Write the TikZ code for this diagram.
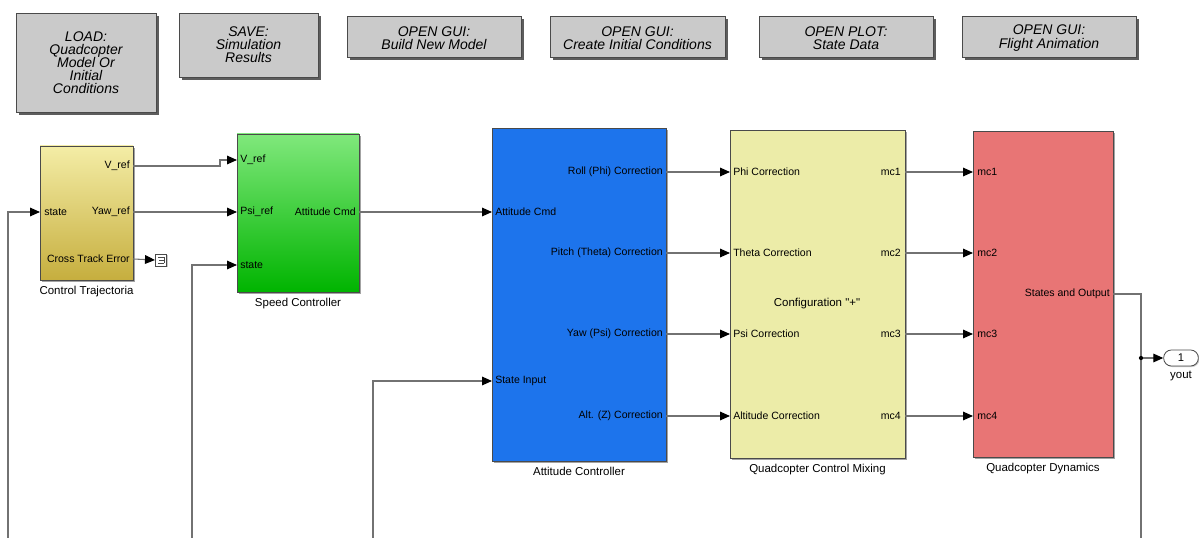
\documentclass[tikz,border=0pt]{standalone}
\usepackage{fontspec}
\newfontfamily\simsans{Liberation Sans}
\usetikzlibrary{arrows.meta,shadows,fit,positioning}

\definecolor{wiregray}{HTML}{727272}
\definecolor{edgegray}{HTML}{4A4A4A}
\definecolor{btnfill}{HTML}{CACACA}
\definecolor{ctTop}{HTML}{F4EDA6}
\definecolor{ctBot}{HTML}{C6AE3E}
\definecolor{scTop}{HTML}{80E87C}
\definecolor{scBot}{HTML}{00B400}
\definecolor{acFill}{HTML}{1D74EC}
\definecolor{qmFill}{HTML}{ECECA8}
\definecolor{qdFill}{HTML}{E87575}

\tikzset{
  wire/.style={draw=wiregray, line width=0.8pt},
  sig/.style={wire, -{Triangle[length=7.5pt,width=6.5pt,color=black]}},
  boxshadow/.style={drop shadow={shadow xshift=1.2pt, shadow yshift=-1.2pt, fill=black!45, opacity=0.8}},
  block/.style={draw=edgegray, line width=0.6pt, inner sep=0pt, boxshadow},
  button/.style={draw=edgegray, fill=btnfill, line width=0.6pt, inner sep=0pt,
    drop shadow={shadow xshift=2pt, shadow yshift=-2pt, fill=black!70, opacity=0.9}},
  btntext/.style={inner sep=0pt, align=center, font=\simsans\itshape\fontsize{10.5}{9.8}\selectfont},
  plabel/.style={inner sep=0pt, font=\simsans\fontsize{7.9}{9}\selectfont},
  caption/.style={inner sep=0pt, font=\simsans\fontsize{8.6}{9}\selectfont},
}

\begin{document}
\begin{tikzpicture}[x=0.75pt, y=-0.75pt]
\useasboundingbox (0,0) rectangle (1199,538);
\fill[white] (0,0) rectangle (1199,538);

% ---- buttons along the top ----
\node[button, fit={(16,13)(156,112)}] (bload) {};
\node[btntext] (tload) at (bload.center) {LOAD:\\Quadcopter\\Model Or\\Initial\\Conditions};
\node[button, fit={(179,13)(318,77)}] (bsave) {};
\node[btntext] (tsave) at (bsave.center) {SAVE:\\Simulation\\Results};
\node[button, fit={(347,16)(521,57)}] (bbuild) {};
\node[btntext] (tbuild) at ([yshift=-1.2pt]bbuild.center) {OPEN GUI:\\Build New Model};
\node[button, fit={(550,16)(725,57)}] (binit) {};
\node[btntext] (tinit) at ([yshift=-1.2pt]binit.center) {OPEN GUI:\\Create Initial Conditions};
\node[button, fit={(759,16)(933,57)}] (bplot) {};
\node[btntext] (tplot) at ([yshift=-1.2pt]bplot.center) {OPEN PLOT:\\State Data};
\node[button, fit={(962,16)(1136,57)}] (banim) {};
\node[btntext] (tanim) at ([yshift=-1.2pt]banim.center) {OPEN GUI:\\Flight Animation};

% ---- Control Trajectoria ----
\node[block, top color=ctTop, bottom color=ctBot, fit={(40,146)(133,280)}] (ct) {};
\node[caption, below=4pt of ct] (ctcap) {Control Trajectoria};
\node[plabel, anchor=east] (ctl1) at (130,166) {V\_ref};
\node[plabel, anchor=east] (ctl2) at (130,212) {Yaw\_ref};
\node[plabel, anchor=east] (ctl3) at (130,259) {Cross Track Error};
\node[plabel, anchor=west] (ctl4) at (44,212) {state};
\coordinate (ct-vref) at (133,166);
\coordinate (ct-yaw) at (133,212);
\coordinate (ct-cte) at (133,259);
\coordinate (ct-state) at (40,212);

% terminator on the cross track error output
\node[draw=edgegray, fill=white, line width=0.5pt, minimum width=8.5pt, minimum height=9pt, inner sep=0pt,
      drop shadow={shadow xshift=0.8pt, shadow yshift=-0.8pt, fill=black!40}] (term) at (161,260) {};
\draw[edgegray, line width=0.4pt] ([xshift=2.4pt,yshift=2.2pt]term.center) -- ([xshift=-2.2pt,yshift=2.2pt]term.center)
  ([xshift=2.4pt]term.center) -- ([xshift=-1.2pt]term.center)
  ([xshift=2.4pt,yshift=-2.2pt]term.center) -- ([xshift=-2.2pt,yshift=-2.2pt]term.center);
\draw[edgegray, line width=0.4pt] ([xshift=2.4pt,yshift=2.2pt]term.center) -- ([xshift=2.4pt,yshift=-2.2pt]term.center);

% ---- Speed Controller ----
\node[block, top color=scTop, bottom color=scBot, fit={(237,134)(359,292)}] (sc) {};
\node[caption, below=4pt of sc] (sccap) {Speed Controller};
\node[plabel, anchor=west] (scl1) at (240,160) {V\_ref};
\node[plabel, anchor=west] (scl2) at (240,212) {Psi\_ref};
\node[plabel, anchor=west] (scl3) at (240,265) {state};
\node[plabel, anchor=east] (scl4) at (356,212) {Attitude Cmd};
\coordinate (sc-vref) at (237,160);
\coordinate (sc-psi) at (237,212);
\coordinate (sc-state) at (237,265);
\coordinate (sc-out) at (359,212);

% ---- Attitude Controller ----
\node[block, fill=acFill, fit={(492,128)(666,461)}] (ac) {};
\node[caption, below=4pt of ac] (accap) {Attitude Controller};
\node[plabel, anchor=west] (acl1) at (495,212) {Attitude Cmd};
\node[plabel, anchor=west] (acl2) at (495,381) {State Input};
\node[plabel, anchor=east] (acl3) at (663,172) {Roll (Phi) Correction};
\node[plabel, anchor=east] (acl4) at (663,253) {Pitch (Theta) Correction};
\node[plabel, anchor=east] (acl5) at (663,334) {Yaw (Psi) Correction};
\node[plabel, anchor=east] (acl6) at (663,416) {Alt. (Z) Correction};
\coordinate (ac-cmd) at (492,212);
\coordinate (ac-state) at (492,381);
\coordinate (ac-o1) at (666,172);
\coordinate (ac-o2) at (666,253);
\coordinate (ac-o3) at (666,334);
\coordinate (ac-o4) at (666,416);

% ---- Quadcopter Control Mixing ----
\node[block, fill=qmFill, fit={(730,130)(905,458)}] (qm) {};
\node[caption, below=4pt of qm] (qmcap) {Quadcopter Control Mixing};
\node[caption] (qmcfg) at (817,304) {Configuration "+"};
\node[plabel, anchor=west] (qml1) at (733,172) {Phi Correction};
\node[plabel, anchor=west] (qml2) at (733,253) {Theta Correction};
\node[plabel, anchor=west] (qml3) at (733,334) {Psi Correction};
\node[plabel, anchor=west] (qml4) at (733,416) {Altitude Correction};
\node[plabel, anchor=east] (qml5) at (901,172) {mc1};
\node[plabel, anchor=east] (qml6) at (901,253) {mc2};
\node[plabel, anchor=east] (qml7) at (901,334) {mc3};
\node[plabel, anchor=east] (qml8) at (901,416) {mc4};
\coordinate (qm-i1) at (730,172);
\coordinate (qm-i2) at (730,253);
\coordinate (qm-i3) at (730,334);
\coordinate (qm-i4) at (730,416);
\coordinate (qm-o1) at (905,172);
\coordinate (qm-o2) at (905,253);
\coordinate (qm-o3) at (905,334);
\coordinate (qm-o4) at (905,416);

% ---- Quadcopter Dynamics ----
\node[block, fill=qdFill, fit={(973,131)(1113,457)}] (qd) {};
\node[caption, below=4pt of qd] (qdcap) {Quadcopter Dynamics};
\node[plabel, anchor=west] (qdl1) at (977,172) {mc1};
\node[plabel, anchor=west] (qdl2) at (977,253) {mc2};
\node[plabel, anchor=west] (qdl3) at (977,334) {mc3};
\node[plabel, anchor=west] (qdl4) at (977,416) {mc4};
\node[plabel, anchor=east] (qdl5) at (1110,294) {States and Output};
\coordinate (qd-i1) at (973,172);
\coordinate (qd-i2) at (973,253);
\coordinate (qd-i3) at (973,334);
\coordinate (qd-i4) at (973,416);
\coordinate (qd-out) at (1113,294);

% ---- outport ----
\node[draw=edgegray, fill=white, line width=0.6pt, rounded corners=5.8pt, minimum width=26pt, minimum height=12pt,
      inner sep=0pt, font=\simsans\fontsize{8.4}{9}\selectfont,
      drop shadow={shadow xshift=0.8pt, shadow yshift=-0.8pt, fill=black!40}] (yout) at (1181,358) {1};
\node[caption, below=3pt of yout] (youtcap) {yout};

% ---- branch points and wire ends ----
\coordinate (vjog1) at (220,166);
\coordinate (vjog2) at (220,160);
\coordinate (fbL) at (8,538);
\coordinate (fbS) at (192,538);
\coordinate (fbA) at (373,538);
\coordinate (outc) at (1141,294);
\coordinate (branch) at (1141,358);
\coordinate (fbR) at (1141,538);

% ---- connectors ----
\draw[sig] (ct-vref) -- (vjog1) -- (vjog2) -- (sc-vref);
\draw[sig] (ct-yaw) -- (sc-psi);
\draw[sig] (ct-cte) -- (term.west);
\draw[sig] (fbL) |- (ct-state);
\draw[sig] (fbS) |- (sc-state);
\draw[sig] (sc-out) -- (ac-cmd);
\draw[sig] (fbA) |- (ac-state);
\draw[sig] (ac-o1) -- (qm-i1);
\draw[sig] (ac-o2) -- (qm-i2);
\draw[sig] (ac-o3) -- (qm-i3);
\draw[sig] (ac-o4) -- (qm-i4);
\draw[sig] (qm-o1) -- (qd-i1);
\draw[sig] (qm-o2) -- (qd-i2);
\draw[sig] (qm-o3) -- (qd-i3);
\draw[sig] (qm-o4) -- (qd-i4);
\draw[wire] (qd-out) -- (outc) -- (fbR);
\draw[sig] (branch) -- (yout.west);
\fill[black] (branch) circle (1.6pt);
\end{tikzpicture}
\end{document}
